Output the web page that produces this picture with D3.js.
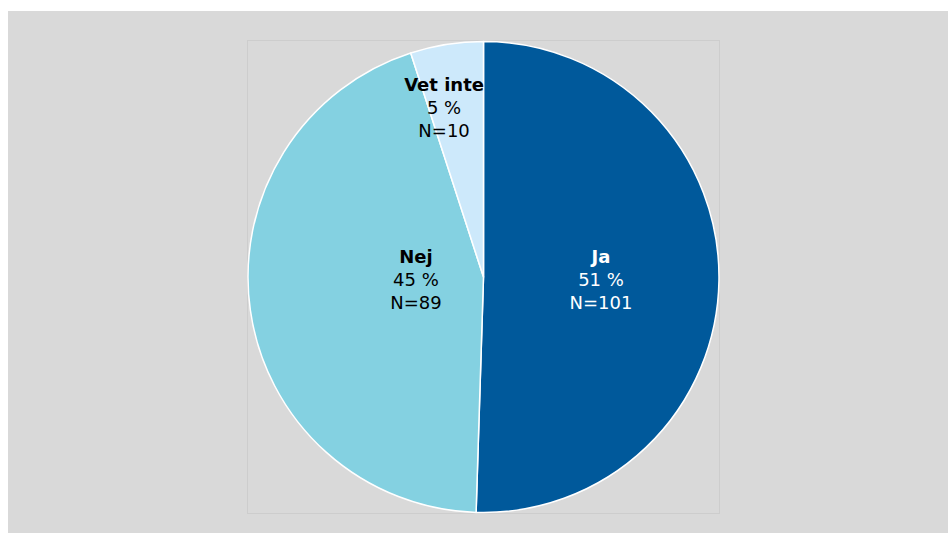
<!DOCTYPE html>
<html>
<head>
<meta charset="utf-8">
<script src="https://cdn.jsdelivr.net/npm/d3@7"></script>
<style>
  html, body { margin: 0; padding: 0; background: #ffffff; }
  svg { display: block; }
</style>
</head>
<body>
<svg id="chart" width="949" height="533"></svg>
<script>
// Survey answers: category names, respondent counts, slice colours
const categories = ["Ja", "Nej", "Vet inte"];
const counts = [101, 89, 10];
const percentLabels = ["51 %", "45 %", "5 %"];
const sliceColors = ["#00599b", "#84d1e1", "#cde9fb"];
const labelColors = ["#ffffff", "#000000", "#000000"];

const svg = d3.select("#chart");
const W = 949, H = 533;

// Chart area background
svg.append("rect")
  .attr("x", 8).attr("y", 11)
  .attr("width", W - 9).attr("height", H - 11)
  .attr("fill", "#d9d9d9");

// Plot area frame
const plot = { x: 247.5, y: 40.5, w: 472, h: 473 };
svg.append("rect")
  .attr("x", plot.x).attr("y", plot.y)
  .attr("width", plot.w).attr("height", plot.h)
  .attr("fill", "none")
  .attr("stroke", "#cdcdcd")
  .attr("stroke-width", 1);

const cx = 483.5, cy = 277, r = 235.5;
const data = categories.map((c, i) => ({ name: c, value: counts[i], pct: percentLabels[i], i }));

const pie = d3.pie().value(d => d.value).sort(null);
const arcs = pie(data);
const arc = d3.arc().innerRadius(0).outerRadius(r);

const g = svg.append("g").attr("transform", `translate(${cx},${cy})`);

g.selectAll("path.slice")
  .data(arcs)
  .join("path")
  .attr("class", "slice")
  .attr("d", arc)
  .attr("fill", d => sliceColors[d.data.i])
  .attr("stroke", "#ffffff")
  .attr("stroke-width", 1.5)
  .attr("stroke-linejoin", "round");

// Label placement: radial distance factor and small nudges per slice
const labelRadius = [0.499, 0.29, 0.729];
const labelNudge = [[0, 1], [0, -7], [-12.6, 0]];

const lineGap = 23;
arcs.forEach(d => {
  const i = d.data.i;
  const lr = r * labelRadius[i];
  const [lx, ly] = d3.arc().innerRadius(lr).outerRadius(lr).centroid(d);
  const x = lx + labelNudge[i][0];
  const y = ly + labelNudge[i][1];
  const t = g.append("text")
    .attr("x", x).attr("y", y)
    .attr("text-anchor", "middle")
    .attr("font-family", "'DejaVu Sans', Verdana, sans-serif")
    .attr("font-size", 18)
    .attr("fill", labelColors[i]);
  const lines = [
    { text: d.data.name, bold: true },
    { text: d.data.pct, bold: false },
    { text: "N=" + d.data.value, bold: false }
  ];
  lines.forEach((ln, k) => {
    t.append("tspan")
      .attr("x", x)
      .attr("y", y + (k - 1) * lineGap)
      .attr("dy", "0.35em")
      .attr("font-weight", ln.bold ? "bold" : "normal")
      .text(ln.text);
  });
});
</script>
</body>
</html>
